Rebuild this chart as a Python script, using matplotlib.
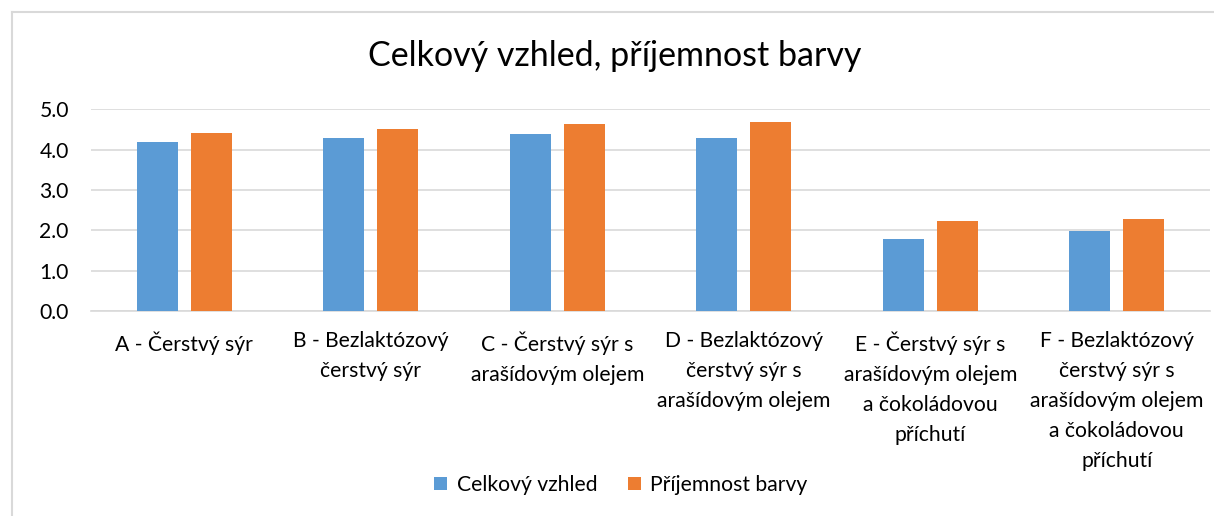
import matplotlib
matplotlib.use("Agg")
import matplotlib.pyplot as plt
import numpy as np

plt.rcParams['font.family'] = ['Lato', 'DejaVu Sans']

categories = [
    "A - Čerstvý sýr",
    "B - Bezlaktózový\nčerstvý sýr",
    "C - Čerstvý sýr s\narašídovým olejem",
    "D - Bezlaktózový\nčerstvý sýr s\narašídovým olejem",
    "E - Čerstvý sýr s\narašídovým olejem\na čokoládovou\npříchutí",
    "F - Bezlaktózový\nčerstvý sýr s\narašídovým olejem\na čokoládovou\npříchutí",
]
celkovy_vzhled = [4.18, 4.28, 4.38, 4.28, 1.80, 1.99]
prijemnost_barvy = [4.42, 4.52, 4.63, 4.68, 2.23, 2.28]
y_ticks = [0.0, 1.0, 2.0, 3.0, 4.0, 5.0]

blue = "#5B9BD5"
orange = "#ED7D31"
grid = "#D9D9D9"

fig = plt.figure(figsize=(12.14, 5.16), dpi=100)
ax = fig.add_axes([0.075, 0.3967, 0.9217, 0.3915])

x = np.arange(len(categories))
w = 0.22
off = 0.145
ax.bar(x - off, celkovy_vzhled, w, color=blue, label="Celkový vzhled", zorder=3)
ax.bar(x + off, prijemnost_barvy, w, color=orange, label="Příjemnost barvy", zorder=3)

ax.set_xlim(-0.5, len(categories) - 0.5)
ax.set_ylim(0, 5)
ax.set_yticks(y_ticks)
ax.set_yticklabels([f"{v:.1f}" for v in y_ticks], fontsize=15.2, color="#000000")
ax.set_xticks(x)
ax.set_xticklabels(categories, fontsize=15.2, linespacing=1.62, va="top")
ax.tick_params(axis="x", length=0, pad=14.5)
ax.tick_params(axis="y", length=0, pad=16)
ax.yaxis.grid(True, color=grid, linewidth=1.2, zorder=0)
for s in ["top", "right", "left"]:
    ax.spines[s].set_visible(False)
ax.spines["bottom"].set_color(grid)
ax.spines["bottom"].set_linewidth(1.2)

fig.text(615 / 1214, 1 - 56 / 516, "Celkový vzhled, příjemnost barvy", ha="center", va="center",
         fontsize=24.5, color="#000000")

fig.legend(loc="center", bbox_to_anchor=(621 / 1214, 1 - 485 / 516), ncol=2, frameon=False,
           fontsize=15.2, handlelength=0.6, handleheight=0.6, handletextpad=0.45,
           columnspacing=1.47)

# chart area border (cropped at right and bottom)
fig.add_artist(plt.Line2D([11.5 / 1214, 11.5 / 1214], [0, 1 - 12 / 516], color=grid, linewidth=1.5,
                          transform=fig.transFigure))
fig.add_artist(plt.Line2D([11.5 / 1214, 1], [1 - 12 / 516, 1 - 12 / 516], color=grid, linewidth=1.5,
                          transform=fig.transFigure))

fig.savefig("out.png", dpi=100)
